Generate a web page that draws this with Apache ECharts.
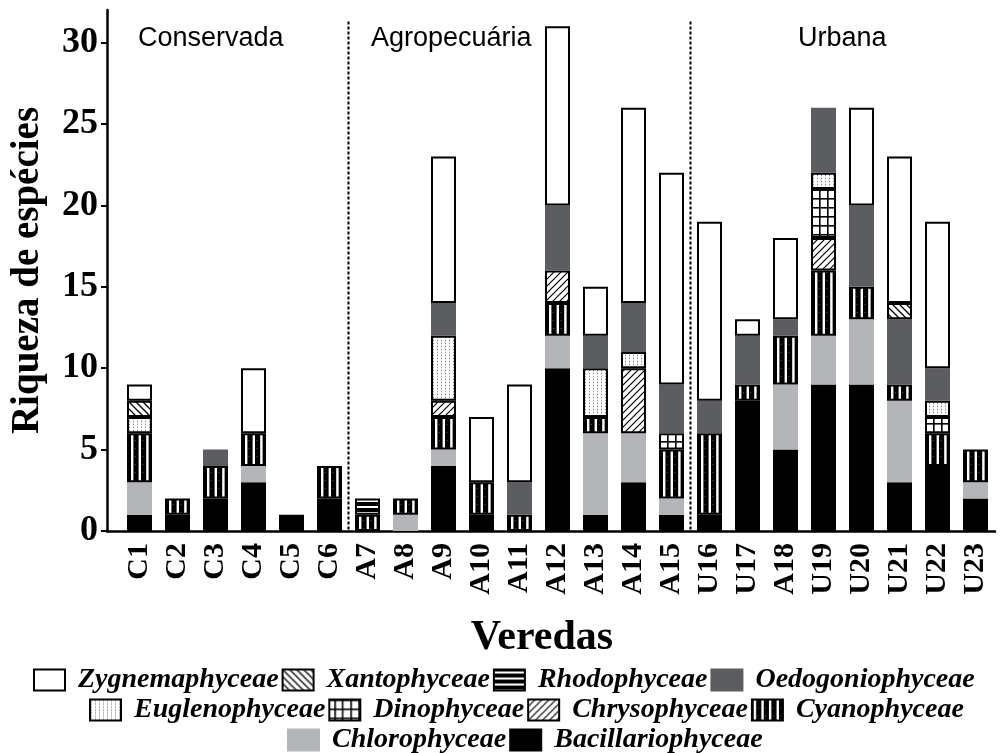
<!DOCTYPE html>
<html>
<head>
<meta charset="utf-8">
<script src="https://cdn.jsdelivr.net/npm/echarts@6/dist/echarts.min.js"></script>
<style>
  html, body { margin: 0; padding: 0; background: #fff; }
  #chart { width: 1008px; height: 753px; }
</style>
</head>
<body>
<div id="chart"></div>
<script>
// Sites (veredas) grouped as conserved, agricultural and urban
const sites = ['C1','C2','C3','C4','C5','C6','A7','A8','A9','A10','A11','A12','A13','A14','A15','U16','U17','A18','U19','U20','U21','U22','U23'];

// Species richness per algal class at each site
const bacillariophyceae = [1,1,2,3,1,2,0,0,4,1,0,10,1,3,1,1,8,5,9,9,3,4,2];
const chlorophyceae     = [2,0,0,1,0,0,0,1,1,0,0,2,5,3,1,0,0,4,3,4,5,0,1];
const cyanophyceae      = [3,1,2,2,0,2,1,1,2,2,1,2,1,0,3,5,1,3,4,2,1,2,2];
const chrysophyceae     = [0,0,0,0,0,0,0,0,1,0,0,2,0,4,0,0,0,0,2,0,0,0,0];
const dinophyceae       = [0,0,0,0,0,0,0,0,0,0,0,0,0,0,1,0,0,0,3,0,0,1,0];
const euglenophyceae    = [1,0,0,0,0,0,0,0,4,0,0,0,3,1,0,0,0,0,1,0,0,1,0];
const oedogoniophyceae  = [0,0,1,0,0,0,0,0,2,0,2,4,2,3,3,2,3,1,4,5,4,2,0];
const rhodophyceae      = [0,0,0,0,0,0,1,0,0,0,0,0,0,0,0,0,0,0,0,0,0,0,0];
const xantophyceae      = [1,0,0,0,0,0,0,0,0,0,0,0,0,0,0,0,0,0,0,0,1,0,0];
const zygnemaphyceae    = [1,0,0,4,0,0,0,0,9,4,6,11,3,12,13,11,1,5,0,6,9,9,0];

const yTicks = [0, 5, 10, 15, 20, 25, 30];
const regions = ['Conservada', 'Agropecuária', 'Urbana'];

// ---- fill patterns -------------------------------------------------------
function pattern(w, h, draw) {
  const c = document.createElement('canvas');
  c.width = w; c.height = h;
  const g = c.getContext('2d');
  draw(g, w, h);
  return { image: c, repeat: 'repeat' };
}
const fills = {
  zyg: '#ffffff',
  oedo: '#5c5d61',
  chloro: '#b4b5b8',
  bacil: '#000000',
  // black with white vertical stripes; tile width equals one category band
  cyano: pattern(38, 8, (g) => {
    g.fillStyle = '#000'; g.fillRect(0, 0, 38, 8);
    g.fillStyle = '#fff';
    [1.8, 9.4, 17, 24.6, 32.2].forEach(x => g.fillRect(x, 0, 2.4, 8));
    g.fillStyle = '#555';
    [5.6, 13.2, 20.8, 28.4, 36].forEach(x => g.fillRect(x, 0, 1, 1));
  }),
  rhodo: pattern(6, 6, (g) => {
    g.fillStyle = '#000'; g.fillRect(0, 0, 6, 6);
    g.fillStyle = '#fff'; g.fillRect(0, 2, 6, 2);
  }),
  xanto: pattern(7, 7, (g) => {
    g.fillStyle = '#fff'; g.fillRect(0, 0, 7, 7);
    g.strokeStyle = '#000'; g.lineWidth = 1.3;
    g.beginPath();
    g.moveTo(0, 0); g.lineTo(7, 7);
    g.moveTo(-1, 6); g.lineTo(1, 8);
    g.moveTo(6, -1); g.lineTo(8, 1);
    g.stroke();
  }),
  chryso: pattern(7, 7, (g) => {
    g.fillStyle = '#fff'; g.fillRect(0, 0, 7, 7);
    g.strokeStyle = '#000'; g.lineWidth = 1.2;
    g.beginPath();
    g.moveTo(0, 7); g.lineTo(7, 0);
    g.moveTo(-1, 1); g.lineTo(1, -1);
    g.moveTo(6, 8); g.lineTo(8, 6);
    g.stroke();
  }),
  dino: pattern(38, 9, (g) => {
    g.fillStyle = '#fff'; g.fillRect(0, 0, 38, 9);
    g.fillStyle = '#000';
    g.fillRect(0, 0, 38, 1.6);
    [5, 12.6, 21, 29].forEach(x => g.fillRect(x, 0, 1.6, 9));
  }),
  eugleno: pattern(4, 3, (g) => {
    g.fillStyle = '#fff'; g.fillRect(0, 0, 4, 3);
    g.fillStyle = '#e2e2e2'; g.fillRect(1, 0, 1, 3);
    g.fillStyle = '#8a8a8a'; g.fillRect(1, 1, 1, 1);
  })
};

// stacking order, bottom to top
const classes = [
  { name: 'Bacillariophyceae', data: bacillariophyceae, fill: 'bacil', edge: '#000' },
  { name: 'Chlorophyceae',     data: chlorophyceae,     fill: 'chloro', edge: '#b4b5b8' },
  { name: 'Cyanophyceae',      data: cyanophyceae,      fill: 'cyano', edge: '#000' },
  { name: 'Chrysophyceae',     data: chrysophyceae,     fill: 'chryso', edge: '#000' },
  { name: 'Dinophyceae',       data: dinophyceae,       fill: 'dino', edge: '#000' },
  { name: 'Euglenophyceae',    data: euglenophyceae,    fill: 'eugleno', edge: '#000' },
  { name: 'Oedogoniophyceae',  data: oedogoniophyceae,  fill: 'oedo', edge: '#5c5d61' },
  { name: 'Rhodophyceae',      data: rhodophyceae,      fill: 'rhodo', edge: '#000' },
  { name: 'Xantophyceae',      data: xantophyceae,      fill: 'xanto', edge: '#000' },
  { name: 'Zygnemaphyceae',    data: zygnemaphyceae,    fill: 'zyg', edge: '#000' }
];

const legendRows = [
  ['Zygnemaphyceae', 'Xantophyceae', 'Rhodophyceae', 'Oedogoniophyceae'],
  ['Euglenophyceae', 'Dinophyceae', 'Chrysophyceae', 'Cyanophyceae'],
  ['Chlorophyceae', 'Bacillariophyceae']
];
const legendLeft = [28, 84, 282];

const serif = '"Liberation Serif", "Times New Roman", serif';
const YMAX = 32;

const series = classes.map(c => ({
  name: c.name,
  type: 'bar',
  stack: 'total',
  xAxisIndex: 0,
  yAxisIndex: 0,
  barWidth: 25,
  data: c.data.map(v => (v > 0 ? v : '-')),
  itemStyle: { color: fills[c.fill], borderColor: c.edge, borderWidth: 2 },
  emphasis: { disabled: true },
  animation: false
}));

const legends = legendRows.map((row, i) => ({
  data: row,
  left: legendLeft[i],
  top: 661 + i * 30,
  icon: 'rect',
  itemWidth: 31,
  itemHeight: 21,
  itemGap: 3,
  selectedMode: false,
  textStyle: {
    fontFamily: serif, fontStyle: 'italic', fontWeight: 'bold',
    fontSize: 28, color: '#000', padding: [0, 0, 0, 8]
  }
}));

const chart = echarts.init(document.getElementById('chart'), null, { renderer: 'canvas' });
chart.setOption({
  backgroundColor: '#fff',
  animation: false,
  legend: legends,
  grid: [
    { left: 120.5, right: 13.5, top: 10, bottom: 222 },
    { left: 100, right: 13, top: 10, bottom: 222 }
  ],
  xAxis: [
    {
      type: 'category', gridIndex: 0, data: sites,
      axisLine: { show: false }, axisTick: { show: false },
      axisLabel: {
        rotate: 90, margin: 12, interval: 0,
        fontFamily: serif, fontWeight: 'bold', fontSize: 30, color: '#000'
      }
    },
    {
      type: 'value', gridIndex: 1, min: 0, max: 1,
      axisLine: { show: true, lineStyle: { color: '#000', width: 2.5 } },
      axisTick: { show: false }, axisLabel: { show: false }, splitLine: { show: false },
      name: 'Veredas', nameLocation: 'middle', nameGap: 86,
      nameTextStyle: { fontFamily: serif, fontWeight: 'bold', fontSize: 42, color: '#000', padding: [0, 18, 0, 0] }
    }
  ],
  yAxis: [
    {
      type: 'value', gridIndex: 0, min: 0, max: YMAX, show: false, splitLine: { show: false }
    },
    {
      type: 'value', gridIndex: 1, min: 0, max: YMAX,
      axisLine: { show: true, lineStyle: { color: '#000', width: 2.5 } },
      axisTick: { show: true, inside: false, length: 6, lineStyle: { color: '#000', width: 2 }, customValues: yTicks },
      axisLabel: {
        customValues: yTicks, margin: 9,
        fontFamily: serif, fontWeight: 'bold', fontSize: 36, color: '#000'
      },
      splitLine: { show: false },
      name: 'Riqueza de espécies', nameLocation: 'middle', nameGap: 60, nameRotate: 90,
      nameTextStyle: { fontFamily: serif, fontWeight: 'bold', fontSize: 39, color: '#000' }
    }
  ],
  series: series
});

// dotted dividers between site groups, positioned from the category axis
function between(a, b) {
  return (chart.convertToPixel({ xAxisIndex: 0 }, a) + chart.convertToPixel({ xAxisIndex: 0 }, b)) / 2;
}
const yBase = chart.convertToPixel({ yAxisIndex: 0 }, 0);
const yTop = chart.convertToPixel({ yAxisIndex: 0 }, 31.3);
const dividers = [between('C6', 'A7'), between('A15', 'U16')];
const sans = '"Liberation Sans", Arial, sans-serif';
chart.setOption({
  graphic: [
    ...dividers.map(x => ({
      type: 'line', silent: true,
      shape: { x1: x, y1: yTop, x2: x, y2: yBase },
      style: { stroke: '#000', lineWidth: 2, lineDash: [3, 2] }
    })),
    { type: 'text', left: 138, top: 25, silent: true,
      style: { text: regions[0], font: '27px ' + sans, fill: '#000' } },
    { type: 'text', left: 371, top: 25, silent: true,
      style: { text: regions[1], font: '27px ' + sans, fill: '#000' } },
    { type: 'text', left: 798, top: 25, silent: true,
      style: { text: regions[2], font: '27px ' + sans, fill: '#000' } }
  ]
});
</script>
</body>
</html>
